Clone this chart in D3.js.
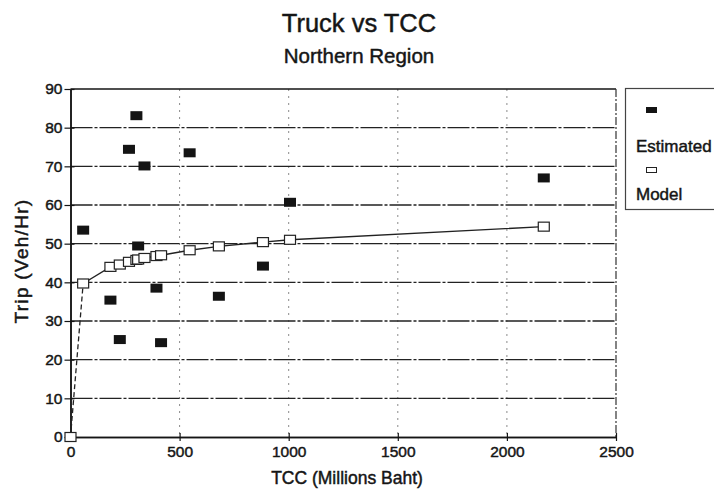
<!DOCTYPE html>
<html>
<head>
<meta charset="utf-8">
<script src="https://cdn.jsdelivr.net/npm/d3@7"></script>
<style>
  html, body { margin: 0; padding: 0; background: #fff; }
  svg { display: block; font-family: "Liberation Sans", Arial, sans-serif; }
  .heavy { stroke: #151515; stroke-width: 0.45px; paint-order: stroke; }
</style>
</head>
<body>
<svg id="chart" width="714" height="492"></svg>
<script>
// ---- data ----
const estimatedX = [58, 183, 226, 268, 302, 310, 339, 394, 415, 546, 680, 882, 1006, 2169];
const estimatedY = [53.5, 35.4, 25.2, 74.4, 83.1, 49.4, 70.1, 38.5, 24.4, 73.5, 36.4, 44.2, 60.7, 67.0];
const modelX = [0, 58, 183, 226, 268, 302, 310, 339, 394, 415, 546, 680, 882, 1006, 2169];
const modelY = [0, 39.7, 44.0, 44.6, 45.3, 45.8, 45.9, 46.3, 46.8, 47.0, 48.3, 49.3, 50.4, 51.0, 54.4];
const xTicks = [0, 500, 1000, 1500, 2000, 2500];
const yTicks = [0, 10, 20, 30, 40, 50, 60, 70, 80, 90];
const seriesNames = ["Estimated", "Model"];
const titleText = "Truck vs TCC";
const subtitleText = "Northern Region";
const xLabel = "TCC (Millions Baht)";
const yLabel = "Trip (Veh/Hr)";

const svg = d3.select("#chart");
const ink = "#151515";

const x = d3.scaleLinear().domain([0, 2500]).range([70.5, 616]);
const y = d3.scaleLinear().domain([0, 90]).range([437, 89]);

// titles
svg.append("text").attr("class", "heavy").attr("x", 359).attr("y", 32).attr("text-anchor", "middle")
  .attr("font-size", 25.5).attr("fill", ink).text(titleText);
svg.append("text").attr("class", "heavy").attr("x", 359).attr("y", 63).attr("text-anchor", "middle")
  .attr("font-size", 20.5).attr("fill", ink).text(subtitleText);

// vertical grid lines (faint dotted)
svg.append("g").selectAll("line").data(xTicks.filter(d => d > 0 && d < 2500)).join("line")
  .attr("x1", d => x(d)).attr("x2", d => x(d))
  .attr("y1", y(90)).attr("y2", y(0))
  .attr("stroke", "#8a8a8a").attr("stroke-width", 1).attr("stroke-dasharray", "2,5");

// horizontal grid lines (dark dash-dot)
svg.append("g").selectAll("line").data(yTicks.filter(d => d > 0 && d < 90)).join("line")
  .attr("x1", x(0)).attr("x2", x(2500))
  .attr("y1", d => y(d)).attr("y2", d => y(d))
  .attr("stroke", "#222").attr("stroke-width", 1.4).attr("stroke-dasharray", "22,2,3,2");

// top border and right border
svg.append("line").attr("x1", x(0)).attr("x2", x(2500)).attr("y1", y(90)).attr("y2", y(90))
  .attr("stroke", ink).attr("stroke-width", 1.5);
svg.append("line").attr("x1", x(2500)).attr("x2", x(2500)).attr("y1", y(90)).attr("y2", y(0))
  .attr("stroke", "#333").attr("stroke-width", 1.2).attr("stroke-dasharray", "8,2,2,2");

// axes
const xAxis = svg.append("g").attr("transform", `translate(0,${y(0)})`)
  .call(d3.axisBottom(x).tickValues(xTicks).tickFormat(d3.format("d")).tickSize(4).tickSizeOuter(0).tickPadding(5));
const yAxis = svg.append("g").attr("transform", `translate(${x(0)},0)`)
  .call(d3.axisLeft(y).tickValues(yTicks).tickFormat(d3.format("d")).tickSize(6).tickSizeOuter(0).tickPadding(2));
// small inward tick marks
svg.append("g").attr("transform", `translate(0,${y(0)})`)
  .call(d3.axisBottom(x).tickValues(xTicks).tickSize(-4).tickSizeOuter(0).tickFormat(""));
svg.append("g").attr("transform", `translate(${x(0)},0)`)
  .call(d3.axisLeft(y).tickValues(yTicks).tickSize(-4).tickSizeOuter(0).tickFormat(""));

svg.selectAll(".domain").attr("stroke", ink).attr("stroke-width", 1.5);
svg.selectAll(".tick line").attr("stroke", ink).attr("stroke-width", 1.2);
[xAxis, yAxis].forEach(a => a.selectAll("text").attr("class", "heavy")
  .attr("font-size", 15.5).attr("fill", ink)
  .attr("font-family", "\"Liberation Sans\", Arial, sans-serif"));

// axis labels
svg.append("text").attr("class", "heavy").attr("x", 347).attr("y", 484).attr("text-anchor", "middle")
  .attr("font-size", 17.5).attr("fill", ink).text(xLabel);
svg.append("text").attr("class", "heavy").attr("transform", `translate(28,261) rotate(-90)`).attr("text-anchor", "middle")
  .attr("font-size", 19).attr("letter-spacing", 1.3).attr("fill", ink).text(yLabel);

// model line: first segment dashed, rest solid
const modelPts = modelX.map((d, i) => [d, modelY[i]]);
const line = d3.line().x(d => x(d[0])).y(d => y(d[1]));
svg.append("path").attr("d", line(modelPts.slice(0, 2)))
  .attr("fill", "none").attr("stroke", "#222").attr("stroke-width", 1.3).attr("stroke-dasharray", "5,3");
svg.append("path").attr("d", line(modelPts.slice(1)))
  .attr("fill", "none").attr("stroke", "#222").attr("stroke-width", 1.4);

// model markers (hollow squares)
svg.append("g").selectAll("rect").data(modelPts).join("rect")
  .attr("x", d => x(d[0]) - 5.5).attr("y", d => y(d[1]) - 4.5)
  .attr("width", 11).attr("height", 9)
  .attr("fill", "#fff").attr("stroke", "#222").attr("stroke-width", 1.2);

// estimated markers (filled squares)
const estPts = estimatedX.map((d, i) => [d, estimatedY[i]]);
svg.append("g").selectAll("rect").data(estPts).join("rect")
  .attr("x", d => x(d[0]) - 6).attr("y", d => y(d[1]) - 4.5)
  .attr("width", 12).attr("height", 9)
  .attr("fill", "#141414");

// legend
const lg = svg.append("g");
lg.append("rect").attr("x", 625.5).attr("y", 88.5).attr("width", 100).attr("height", 121)
  .attr("fill", "#fff").attr("stroke", "#444").attr("stroke-width", 1.2);
lg.append("rect").attr("x", 646).attr("y", 107).attr("width", 11).attr("height", 6).attr("fill", "#141414");
lg.append("text").attr("class", "heavy").attr("x", 636).attr("y", 152).attr("font-size", 17).attr("fill", ink).text(seriesNames[0]);
lg.append("rect").attr("x", 646.5).attr("y", 167.5).attr("width", 10).attr("height", 5)
  .attr("fill", "#fff").attr("stroke", "#222").attr("stroke-width", 1);
lg.append("text").attr("class", "heavy").attr("x", 636).attr("y", 200).attr("font-size", 17).attr("fill", ink).text(seriesNames[1]);
</script>
</body>
</html>
